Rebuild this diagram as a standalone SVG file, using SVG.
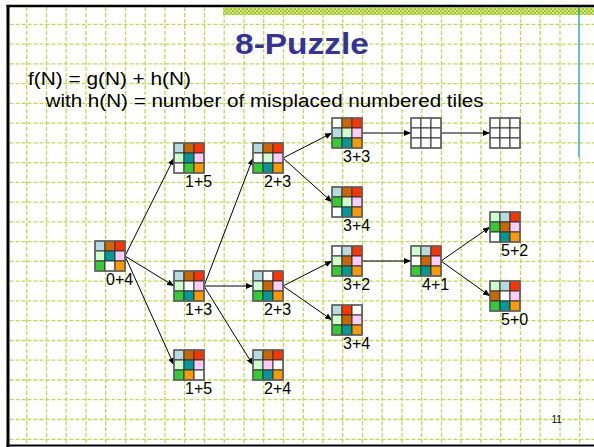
<svg xmlns="http://www.w3.org/2000/svg" width="594" height="447" viewBox="0 0 594 447">
<defs>
<style>
.grid{fill:none;stroke:#bedb4e;stroke-width:1.3;stroke-dasharray:4 2}
.t{stroke:#333;stroke-width:1}
.box{fill:none;stroke:#666;stroke-width:1.5}
.lb{fill:#b4dce0}.br{fill:#cc6600}.rd{fill:#ff3300}.lg{fill:#ccffcc}.tl{fill:#009999}.pk{fill:#ffccff}.gr{fill:#33cc33}.wh{fill:#ffffff}.or{fill:#ff9900}
.lbl{font-family:"Liberation Sans",Arial,sans-serif;font-size:16px;fill:#000}
.txt{font-family:"Liberation Sans",Arial,sans-serif;font-size:18px;fill:#000}
.edge line{stroke:#000;stroke-width:1;marker-end:url(#arr)}
</style>
<marker id="arr" markerWidth="7" markerHeight="6" refX="7" refY="3" orient="auto" markerUnits="userSpaceOnUse">
<path d="M0,0 L7,3 L0,6 z" fill="#000"/>
</marker>
<pattern id="band" width="4" height="4" patternUnits="userSpaceOnUse">
<rect width="4" height="4" fill="#a6cc22"/>
<rect width="2" height="2" fill="#cde486"/>
<rect x="2" y="2" width="2" height="2" fill="#cde486"/>
</pattern>
</defs>
<rect width="594" height="447" fill="#fff"/>
<rect x="223" y="7.5" width="371" height="7.5" fill="url(#band)"/>
<path class="grid" d="M9.5,24.3H594M9.5,44.1H594M9.5,63.8H594M9.5,83.6H594M9.5,103.3H594M9.5,123.1H594M9.5,142.9H594M9.5,162.6H594M9.5,182.4H594M9.5,202.1H594M9.5,221.9H594M9.5,241.7H594M9.5,261.4H594M9.5,281.2H594M9.5,300.9H594M9.5,320.7H594M9.5,340.5H594M9.5,360.2H594M9.5,380H594M9.5,399.7H594M9.5,419.5H594M9.5,439.3H594"/>
<path class="grid" d="M26.7,7V446M46.5,7V446M66.2,7V446M86,7V446M105.7,7V446M125.5,7V446M145.2,7V446M165,7V446M184.7,7V446M204.5,7V446M224.2,7V446M244,7V446M263.7,7V446M283.5,7V446M303.2,7V446M323,7V446M342.7,7V446M362.5,7V446M382.2,7V446M402,7V446M421.7,7V446M441.5,7V446M461.2,7V446M481,7V446M500.7,7V446M520.5,7V446M540.2,7V446M560,7V446"/>
<line x1="579" y1="7" x2="579" y2="157" stroke="#009999" stroke-width="1.2"/>
<line x1="579.7" y1="157" x2="579.7" y2="446" class="grid"/>
<path d="M6.5,6H594" stroke="#000" stroke-width="2.5"/>
<path d="M8,5V447" stroke="#000" stroke-width="3"/>
<path d="M6.5,445.5H594" stroke="#000" stroke-width="2"/>

<text x="302" y="53.5" text-anchor="middle" textLength="134" lengthAdjust="spacingAndGlyphs" style="font-family:'Liberation Sans',Arial,sans-serif;font-weight:bold;font-size:30px;fill:#333399">8-Puzzle</text>
<text class="txt" x="28" y="85" textLength="163" lengthAdjust="spacingAndGlyphs">f(N) = g(N) + h(N)</text>
<text class="txt" x="45.5" y="107" textLength="438" lengthAdjust="spacingAndGlyphs">with h(N) = number of misplaced numbered tiles</text>

<g id="connectors" class="edge">
<line x1="125" y1="256" x2="174" y2="158"/>
<line x1="125" y1="256" x2="174" y2="286"/>
<line x1="125" y1="256" x2="174" y2="365"/>
<line x1="204" y1="286" x2="253" y2="158"/>
<line x1="204" y1="286" x2="253" y2="286"/>
<line x1="204" y1="286" x2="253" y2="365"/>
<line x1="283" y1="158" x2="332" y2="133"/>
<line x1="283" y1="158" x2="332" y2="202"/>
<line x1="362" y1="133" x2="411" y2="133"/>
<line x1="441" y1="133" x2="490" y2="133"/>
<line x1="283" y1="286" x2="332" y2="261"/>
<line x1="283" y1="286" x2="332" y2="320"/>
<line x1="362" y1="261" x2="411" y2="261"/>
<line x1="441" y1="261" x2="490" y2="227"/>
<line x1="441" y1="261" x2="490" y2="296"/>
</g>

<g id="n04" transform="translate(95,241)">
<rect class="t lb" x="0" y="0" width="10" height="10"/><rect class="t br" x="10" y="0" width="10" height="10"/><rect class="t rd" x="20" y="0" width="10" height="10"/>
<rect class="t lg" x="0" y="10" width="10" height="10"/><rect class="t tl" x="10" y="10" width="10" height="10"/><rect class="t pk" x="20" y="10" width="10" height="10"/>
<rect class="t gr" x="0" y="20" width="10" height="10"/><rect class="t wh" x="10" y="20" width="10" height="10"/><rect class="t or" x="20" y="20" width="10" height="10"/>
<rect class="box" width="30" height="30"/>
<text class="lbl" x="11" y="44">0+4</text>
</g>

<g id="n15a" transform="translate(174,143)">
<rect class="t lb" x="0" y="0" width="10" height="10"/><rect class="t br" x="10" y="0" width="10" height="10"/><rect class="t rd" x="20" y="0" width="10" height="10"/>
<rect class="t lg" x="0" y="10" width="10" height="10"/><rect class="t tl" x="10" y="10" width="10" height="10"/><rect class="t pk" x="20" y="10" width="10" height="10"/>
<rect class="t wh" x="0" y="20" width="10" height="10"/><rect class="t gr" x="10" y="20" width="10" height="10"/><rect class="t or" x="20" y="20" width="10" height="10"/>
<rect class="box" width="30" height="30"/>
<text class="lbl" x="11" y="44">1+5</text>
</g>

<g id="n13" transform="translate(174,271)">
<rect class="t lb" x="0" y="0" width="10" height="10"/><rect class="t br" x="10" y="0" width="10" height="10"/><rect class="t rd" x="20" y="0" width="10" height="10"/>
<rect class="t lg" x="0" y="10" width="10" height="10"/><rect class="t wh" x="10" y="10" width="10" height="10"/><rect class="t pk" x="20" y="10" width="10" height="10"/>
<rect class="t gr" x="0" y="20" width="10" height="10"/><rect class="t tl" x="10" y="20" width="10" height="10"/><rect class="t or" x="20" y="20" width="10" height="10"/>
<rect class="box" width="30" height="30"/>
<text class="lbl" x="11" y="44">1+3</text>
</g>

<g id="n15b" transform="translate(174,350)">
<rect class="t lb" x="0" y="0" width="10" height="10"/><rect class="t br" x="10" y="0" width="10" height="10"/><rect class="t rd" x="20" y="0" width="10" height="10"/>
<rect class="t lg" x="0" y="10" width="10" height="10"/><rect class="t tl" x="10" y="10" width="10" height="10"/><rect class="t pk" x="20" y="10" width="10" height="10"/>
<rect class="t gr" x="0" y="20" width="10" height="10"/><rect class="t or" x="10" y="20" width="10" height="10"/><rect class="t wh" x="20" y="20" width="10" height="10"/>
<rect class="box" width="30" height="30"/>
<text class="lbl" x="11" y="44">1+5</text>
</g>

<g id="n23a" transform="translate(253,143)">
<rect class="t lb" x="0" y="0" width="10" height="10"/><rect class="t br" x="10" y="0" width="10" height="10"/><rect class="t rd" x="20" y="0" width="10" height="10"/>
<rect class="t wh" x="0" y="10" width="10" height="10"/><rect class="t lg" x="10" y="10" width="10" height="10"/><rect class="t pk" x="20" y="10" width="10" height="10"/>
<rect class="t gr" x="0" y="20" width="10" height="10"/><rect class="t tl" x="10" y="20" width="10" height="10"/><rect class="t or" x="20" y="20" width="10" height="10"/>
<rect class="box" width="30" height="30"/>
<text class="lbl" x="11" y="44">2+3</text>
</g>

<g id="n23b" transform="translate(253,271)">
<rect class="t lb" x="0" y="0" width="10" height="10"/><rect class="t wh" x="10" y="0" width="10" height="10"/><rect class="t rd" x="20" y="0" width="10" height="10"/>
<rect class="t lg" x="0" y="10" width="10" height="10"/><rect class="t br" x="10" y="10" width="10" height="10"/><rect class="t pk" x="20" y="10" width="10" height="10"/>
<rect class="t gr" x="0" y="20" width="10" height="10"/><rect class="t tl" x="10" y="20" width="10" height="10"/><rect class="t or" x="20" y="20" width="10" height="10"/>
<rect class="box" width="30" height="30"/>
<text class="lbl" x="11" y="44">2+3</text>
</g>

<g id="n24" transform="translate(253,350)">
<rect class="t lb" x="0" y="0" width="10" height="10"/><rect class="t br" x="10" y="0" width="10" height="10"/><rect class="t rd" x="20" y="0" width="10" height="10"/>
<rect class="t lg" x="0" y="10" width="10" height="10"/><rect class="t pk" x="10" y="10" width="10" height="10"/><rect class="t wh" x="20" y="10" width="10" height="10"/>
<rect class="t gr" x="0" y="20" width="10" height="10"/><rect class="t tl" x="10" y="20" width="10" height="10"/><rect class="t or" x="20" y="20" width="10" height="10"/>
<rect class="box" width="30" height="30"/>
<text class="lbl" x="11" y="44">2+4</text>
</g>

<g id="n33" transform="translate(332,118)">
<rect class="t wh" x="0" y="0" width="10" height="10"/><rect class="t br" x="10" y="0" width="10" height="10"/><rect class="t rd" x="20" y="0" width="10" height="10"/>
<rect class="t lb" x="0" y="10" width="10" height="10"/><rect class="t lg" x="10" y="10" width="10" height="10"/><rect class="t pk" x="20" y="10" width="10" height="10"/>
<rect class="t gr" x="0" y="20" width="10" height="10"/><rect class="t tl" x="10" y="20" width="10" height="10"/><rect class="t or" x="20" y="20" width="10" height="10"/>
<rect class="box" width="30" height="30"/>
<text class="lbl" x="11" y="44">3+3</text>
</g>

<g id="n34a" transform="translate(332,187)">
<rect class="t lb" x="0" y="0" width="10" height="10"/><rect class="t br" x="10" y="0" width="10" height="10"/><rect class="t rd" x="20" y="0" width="10" height="10"/>
<rect class="t gr" x="0" y="10" width="10" height="10"/><rect class="t lg" x="10" y="10" width="10" height="10"/><rect class="t pk" x="20" y="10" width="10" height="10"/>
<rect class="t wh" x="0" y="20" width="10" height="10"/><rect class="t tl" x="10" y="20" width="10" height="10"/><rect class="t or" x="20" y="20" width="10" height="10"/>
<rect class="box" width="30" height="30"/>
<text class="lbl" x="11" y="44">3+4</text>
</g>

<g id="n32" transform="translate(332,246)">
<rect class="t wh" x="0" y="0" width="10" height="10"/><rect class="t lb" x="10" y="0" width="10" height="10"/><rect class="t rd" x="20" y="0" width="10" height="10"/>
<rect class="t lg" x="0" y="10" width="10" height="10"/><rect class="t br" x="10" y="10" width="10" height="10"/><rect class="t pk" x="20" y="10" width="10" height="10"/>
<rect class="t gr" x="0" y="20" width="10" height="10"/><rect class="t tl" x="10" y="20" width="10" height="10"/><rect class="t or" x="20" y="20" width="10" height="10"/>
<rect class="box" width="30" height="30"/>
<text class="lbl" x="11" y="44">3+2</text>
</g>

<g id="n34b" transform="translate(332,305)">
<rect class="t lb" x="0" y="0" width="10" height="10"/><rect class="t rd" x="10" y="0" width="10" height="10"/><rect class="t wh" x="20" y="0" width="10" height="10"/>
<rect class="t lg" x="0" y="10" width="10" height="10"/><rect class="t br" x="10" y="10" width="10" height="10"/><rect class="t pk" x="20" y="10" width="10" height="10"/>
<rect class="t gr" x="0" y="20" width="10" height="10"/><rect class="t tl" x="10" y="20" width="10" height="10"/><rect class="t or" x="20" y="20" width="10" height="10"/>
<rect class="box" width="30" height="30"/>
<text class="lbl" x="11" y="44">3+4</text>
</g>

<g id="e1" transform="translate(411,118)">
<rect class="t wh" x="0" y="0" width="10" height="10"/><rect class="t wh" x="10" y="0" width="10" height="10"/><rect class="t wh" x="20" y="0" width="10" height="10"/>
<rect class="t wh" x="0" y="10" width="10" height="10"/><rect class="t wh" x="10" y="10" width="10" height="10"/><rect class="t wh" x="20" y="10" width="10" height="10"/>
<rect class="t wh" x="0" y="20" width="10" height="10"/><rect class="t wh" x="10" y="20" width="10" height="10"/><rect class="t wh" x="20" y="20" width="10" height="10"/>
<rect class="box" width="30" height="30"/>
</g>

<g id="e2" transform="translate(490,118)">
<rect class="t wh" x="0" y="0" width="10" height="10"/><rect class="t wh" x="10" y="0" width="10" height="10"/><rect class="t wh" x="20" y="0" width="10" height="10"/>
<rect class="t wh" x="0" y="10" width="10" height="10"/><rect class="t wh" x="10" y="10" width="10" height="10"/><rect class="t wh" x="20" y="10" width="10" height="10"/>
<rect class="t wh" x="0" y="20" width="10" height="10"/><rect class="t wh" x="10" y="20" width="10" height="10"/><rect class="t wh" x="20" y="20" width="10" height="10"/>
<rect class="box" width="30" height="30"/>
</g>

<g id="n41" transform="translate(411,246)">
<rect class="t lg" x="0" y="0" width="10" height="10"/><rect class="t lb" x="10" y="0" width="10" height="10"/><rect class="t rd" x="20" y="0" width="10" height="10"/>
<rect class="t wh" x="0" y="10" width="10" height="10"/><rect class="t br" x="10" y="10" width="10" height="10"/><rect class="t pk" x="20" y="10" width="10" height="10"/>
<rect class="t gr" x="0" y="20" width="10" height="10"/><rect class="t tl" x="10" y="20" width="10" height="10"/><rect class="t or" x="20" y="20" width="10" height="10"/>
<rect class="box" width="30" height="30"/>
<text class="lbl" x="11" y="44">4+1</text>
</g>

<g id="n52" transform="translate(490,212)">
<rect class="t lg" x="0" y="0" width="10" height="10"/><rect class="t lb" x="10" y="0" width="10" height="10"/><rect class="t rd" x="20" y="0" width="10" height="10"/>
<rect class="t gr" x="0" y="10" width="10" height="10"/><rect class="t br" x="10" y="10" width="10" height="10"/><rect class="t pk" x="20" y="10" width="10" height="10"/>
<rect class="t wh" x="0" y="20" width="10" height="10"/><rect class="t tl" x="10" y="20" width="10" height="10"/><rect class="t or" x="20" y="20" width="10" height="10"/>
<rect class="box" width="30" height="30"/>
<text class="lbl" x="11" y="44">5+2</text>
</g>

<g id="n50" transform="translate(490,281)">
<rect class="t lg" x="0" y="0" width="10" height="10"/><rect class="t lb" x="10" y="0" width="10" height="10"/><rect class="t rd" x="20" y="0" width="10" height="10"/>
<rect class="t br" x="0" y="10" width="10" height="10"/><rect class="t wh" x="10" y="10" width="10" height="10"/><rect class="t pk" x="20" y="10" width="10" height="10"/>
<rect class="t gr" x="0" y="20" width="10" height="10"/><rect class="t tl" x="10" y="20" width="10" height="10"/><rect class="t or" x="20" y="20" width="10" height="10"/>
<rect class="box" width="30" height="30"/>
<text class="lbl" x="11" y="44">5+0</text>
</g>

<text x="551.5" y="423" style="font-family:'Liberation Sans',Arial,sans-serif;font-size:10px;fill:#000">11</text>
</svg>
